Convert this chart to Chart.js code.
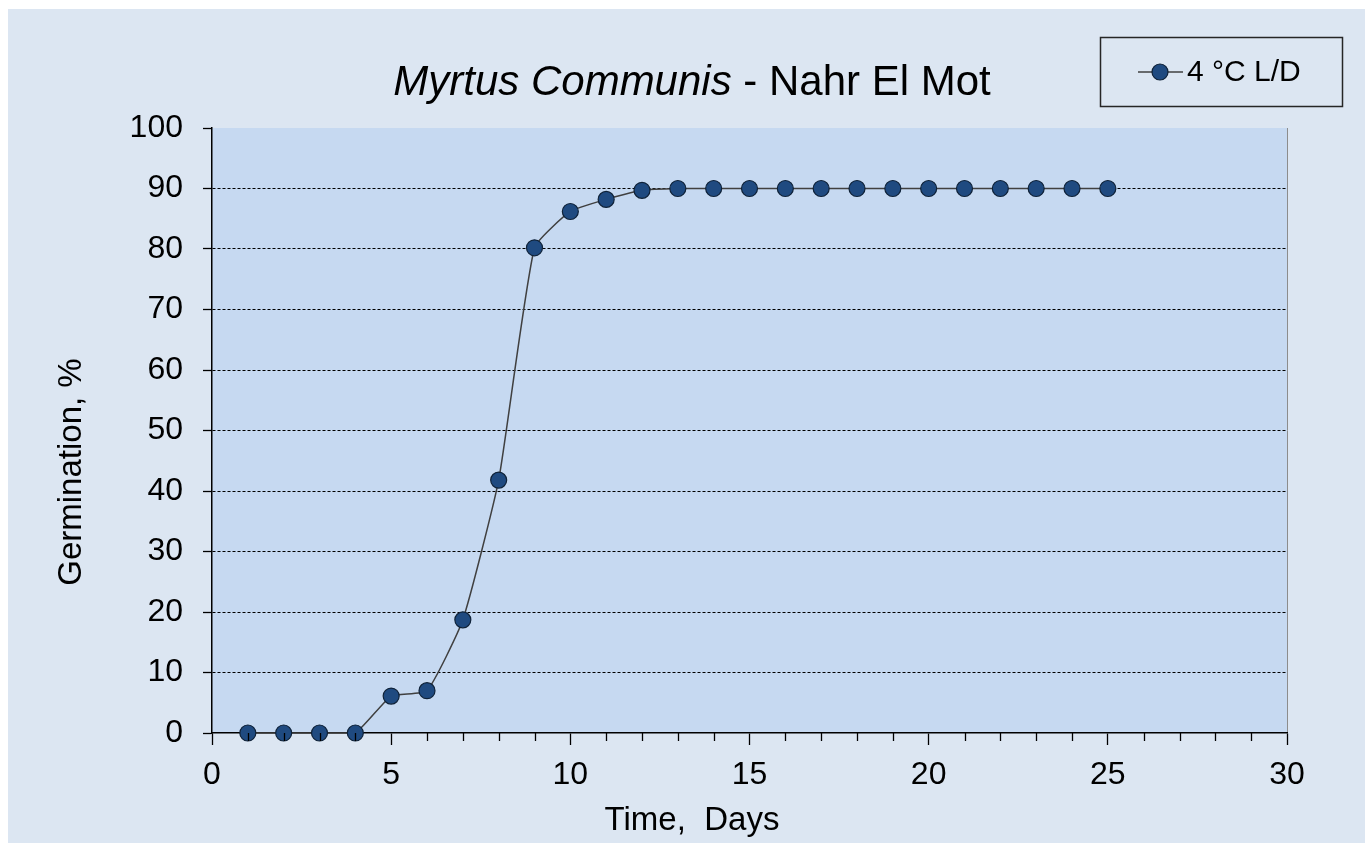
<!DOCTYPE html>
<html>
<head>
<meta charset="utf-8">
<script src="https://cdn.jsdelivr.net/npm/chart.js@4/dist/chart.umd.min.js"></script>
<style>
  html, body { margin: 0; padding: 0; background: #ffffff; }
  #wrap { position: absolute; left: 8px; top: 9px; width: 1357px; height: 834px; }
</style>
</head>
<body>
<div id="wrap"><canvas id="germChart"></canvas></div>
<script>
// data
const days = [1, 2, 3, 4, 5, 6, 7, 8, 9, 10, 11, 12, 13, 14, 15, 16, 17, 18, 19, 20, 21, 22, 23, 24, 25];
const germination = [0, 0, 0, 0, 6.1, 7.0, 18.7, 41.8, 80.2, 86.2, 88.2, 89.7, 90, 90, 90, 90, 90, 90, 90, 90, 90, 90, 90, 90, 90];
const seriesLabel = "4 °C L/D";
const titleItalic = "Myrtus Communis";
const titleRest = " - Nahr El Mot";
const xTitle = "Time,  Days";
const yTitle = "Germination, %";

const FONT = "'Liberation Sans', Arial, sans-serif";
const POINT_FILL = "#1f4a80";
const POINT_EDGE = "#0f2238";

const points = days.map((d, i) => ({ x: d, y: germination[i] }));

// background, plot fill, minor ticks, titles and legend box
const decorPlugin = {
  id: "decor",
  beforeDraw(chart) {
    const { ctx, chartArea: a } = chart;
    ctx.save();
    ctx.fillStyle = "#dce6f2";
    ctx.fillRect(0, 0, chart.width, chart.height);
    ctx.fillStyle = "#c6d9f1";
    ctx.fillRect(a.left, a.top, a.right - a.left, a.bottom - a.top);
    ctx.strokeStyle = "#8c8c8c";
    ctx.lineWidth = 1;
    ctx.beginPath();
    ctx.moveTo(a.right + 0.5, a.top);
    ctx.lineTo(a.right + 0.5, a.bottom);
    ctx.stroke();
    ctx.restore();
  },
  afterDraw(chart) {
    const { ctx, chartArea: a } = chart;
    const xs = chart.scales.x;
    ctx.save();

    // minor ticks every day
    ctx.strokeStyle = "#000";
    ctx.lineWidth = 1.3;
    for (let v = 0; v <= 30; v++) {
      if (v % 5 === 0) continue;
      const px = Math.round(xs.getPixelForValue(v)) + 0.5;
      ctx.beginPath();
      ctx.moveTo(px, a.bottom);
      ctx.lineTo(px, a.bottom + 8);
      ctx.stroke();
    }

    // title, mixed italic / upright
    ctx.fillStyle = "#000";
    ctx.textBaseline = "alphabetic";
    ctx.textAlign = "left";
    const fItal = "italic 42px " + FONT;
    const fNorm = "42px " + FONT;
    ctx.font = fItal;
    const w1 = ctx.measureText(titleItalic).width;
    ctx.font = fNorm;
    const w2 = ctx.measureText(titleRest).width;
    const tx = 684 - (w1 + w2) / 2;
    ctx.font = fItal;
    ctx.fillText(titleItalic, tx, 86);
    ctx.font = fNorm;
    ctx.fillText(titleRest, tx + w1, 86);

    // axis titles
    ctx.font = "33px " + FONT;
    ctx.textAlign = "center";
    ctx.textBaseline = "middle";
    ctx.fillText(xTitle, 684, 812);
    ctx.save();
    ctx.translate(64, 463);
    ctx.rotate(-Math.PI / 2);
    ctx.fillText(yTitle, 0, 0);
    ctx.restore();

    // legend box
    const bx = 1092, by = 28, bw = 242, bh = 69;
    ctx.strokeStyle = "#262626";
    ctx.lineWidth = 1.5;
    ctx.strokeRect(bx + 0.5, by + 0.5, bw, bh);
    const ly = by + 35;
    ctx.strokeStyle = "#404040";
    ctx.lineWidth = 1.5;
    ctx.beginPath();
    ctx.moveTo(bx + 38, ly);
    ctx.lineTo(bx + 83, ly);
    ctx.stroke();
    ctx.beginPath();
    ctx.arc(bx + 60, ly, 8, 0, Math.PI * 2);
    ctx.fillStyle = POINT_FILL;
    ctx.fill();
    ctx.strokeStyle = POINT_EDGE;
    ctx.lineWidth = 1.2;
    ctx.stroke();
    ctx.fillStyle = "#000";
    ctx.font = "30px " + FONT;
    ctx.textAlign = "left";
    ctx.textBaseline = "middle";
    ctx.fillText(seriesLabel, bx + 87, ly + 1);

    ctx.restore();
  }
};

const ctx = document.getElementById("germChart").getContext("2d");
new Chart(ctx, {
  type: "line",
  data: {
    datasets: [{
      label: seriesLabel,
      data: points,
      borderColor: "#404040",
      borderWidth: 1.5,
      tension: 0.15,
      pointRadius: 8,
      pointHoverRadius: 8,
      pointBackgroundColor: POINT_FILL,
      pointBorderColor: POINT_EDGE,
      pointBorderWidth: 1.2,
      clip: false
    }]
  },
  plugins: [decorPlugin],
  options: {
    responsive: true,
    maintainAspectRatio: false,
    animation: false,
    events: [],
    layout: { padding: { top: 119, right: 78, left: 0, bottom: 0 } },
    plugins: {
      legend: { display: false },
      title: { display: false },
      tooltip: { enabled: false }
    },
    scales: {
      x: {
        type: "linear",
        min: 0,
        max: 30,
        afterFit(scale) { scale.height = 110; },
        ticks: {
          stepSize: 5,
          padding: 11,
          color: "#000",
          font: { family: FONT, size: 32 },
          maxRotation: 0
        },
        grid: {
          drawOnChartArea: false,
          tickLength: 12,
          tickColor: "#000",
          tickWidth: 1.3
        },
        border: { color: "#000", width: 1.5 }
      },
      y: {
        min: 0,
        max: 100,
        afterFit(scale) { scale.width = 204; },
        ticks: {
          stepSize: 10,
          padding: 20,
          color: "#000",
          font: { family: FONT, size: 32 }
        },
        grid: {
          color: (c) => (c.tick && (c.tick.value === 0 || c.tick.value === 100)) ? "rgba(0,0,0,0)" : "#000",
          lineWidth: 1,
          tickLength: 9,
          tickColor: "#000",
          tickWidth: 1.3,
          tickBorderDash: [],
          z: 0
        },
        border: { color: "#000", width: 1.5, dash: [3, 2] }
      }
    }
  }
});
</script>
</body>
</html>
